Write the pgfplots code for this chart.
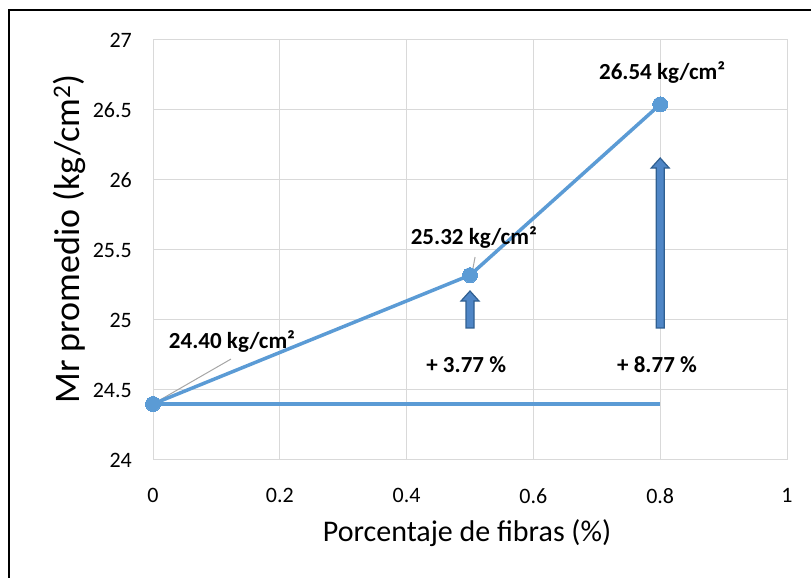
\documentclass[border=0pt]{standalone}
\usepackage{pgfplots}
\pgfplotsset{compat=1.18}
\usepackage{fontspec}
\setmainfont{Carlito}

\definecolor{serieblue}{HTML}{5B9BD5}
\definecolor{gridgray}{HTML}{D9D9D9}
\definecolor{leadergray}{HTML}{A6A6A6}
\definecolor{arrowfill}{HTML}{4F86C6}
\definecolor{arrowedge}{HTML}{2F5F91}

\begin{document}
\begin{tikzpicture}[x=1bp,y=1bp]
\useasboundingbox (0,0) rectangle (811,578);
% outer chart frame
\draw[line width=2bp,black] (9,0) -- (9,568) -- (811,568);

\begin{axis}[
  scale only axis,
  width=634bp, height=420bp,
  at={(153bp,118bp)}, anchor=south west,
  xmin=0, xmax=1, ymin=24, ymax=27,
  xtick={0,0.2,0.4,0.6,0.8,1},
  ytick={24,24.5,25,25.5,26,26.5,27},
  grid=major,
  grid style={draw=gridgray, line width=1bp},
  axis line style={draw=gridgray, line width=1bp},
  major tick length=0pt,
  clip=false,
  /pgf/number format/assume math mode=true,
  /pgf/number format/fixed,
  tick label style={font=\fontsize{22bp}{26bp}\selectfont, text=black},
  xticklabel style={anchor=north, inner sep=0pt, yshift=-28bp},
  yticklabel style={anchor=east, inner sep=0pt, xshift=-21bp},
]

% baseline reference at 0 %
\addplot[serieblue, line width=3.8bp, no marks] coordinates {(0,24.40) (0.8,24.40)};

% leader lines of the value labels
\addplot[leadergray, line width=1bp, no marks] coordinates {(0,24.40) (0.123,24.721)};
\addplot[leadergray, line width=1bp, no marks] coordinates {(0.503,25.33) (0.508,25.45)};

% average Mr versus fibre content
\addplot[serieblue, line width=3.5bp, mark=*, mark size=7.5bp,
  mark options={fill=serieblue, draw=serieblue, line width=0pt}]
  coordinates {(0,24.40) (0.5,25.32) (0.8,26.54)};

% increase arrows
\foreach \xa/\ya/\yb in {0.5/24.943/25.207, 0.8/24.943/26.157}{
  \edef\temp{\noexpand\filldraw[fill=arrowfill, draw=arrowedge, line width=1.2bp, line join=miter]
    ([xshift=-4bp]axis cs:\xa,\ya) --
    ([xshift=-4bp,yshift=-10bp]axis cs:\xa,\yb) --
    ([xshift=-9bp,yshift=-10bp]axis cs:\xa,\yb) --
    (axis cs:\xa,\yb) --
    ([xshift=9bp,yshift=-10bp]axis cs:\xa,\yb) --
    ([xshift=4bp,yshift=-10bp]axis cs:\xa,\yb) --
    ([xshift=4bp]axis cs:\xa,\ya) -- cycle;}
  \temp
}

% value labels
\begin{scope}[every node/.style={font=\fontsize{23bp}{27bp}\selectfont\bfseries, text=black}]
\node at (axis cs:0.1246,24.843) {24.40 kg/cm²};
\node at (axis cs:0.506,25.586) {25.32 kg/cm²};
\node at (axis cs:0.803,26.771) {26.54 kg/cm²};
\node at (axis cs:0.494,24.679) {+ 3.77 \%};
\node at (axis cs:0.795,24.679) {+ 8.77 \%};
\end{scope}
\end{axis}

% axis titles
\node[anchor=base, font=\fontsize{30bp}{34bp}\selectfont] at (467,36) {Porcentaje de fibras (\%)};
\node[anchor=base, rotate=90, font=\fontsize{36bp}{40bp}\selectfont] at (79,339) {Mr promedio (kg/cm\textsuperscript{2})};
\end{tikzpicture}
\end{document}
